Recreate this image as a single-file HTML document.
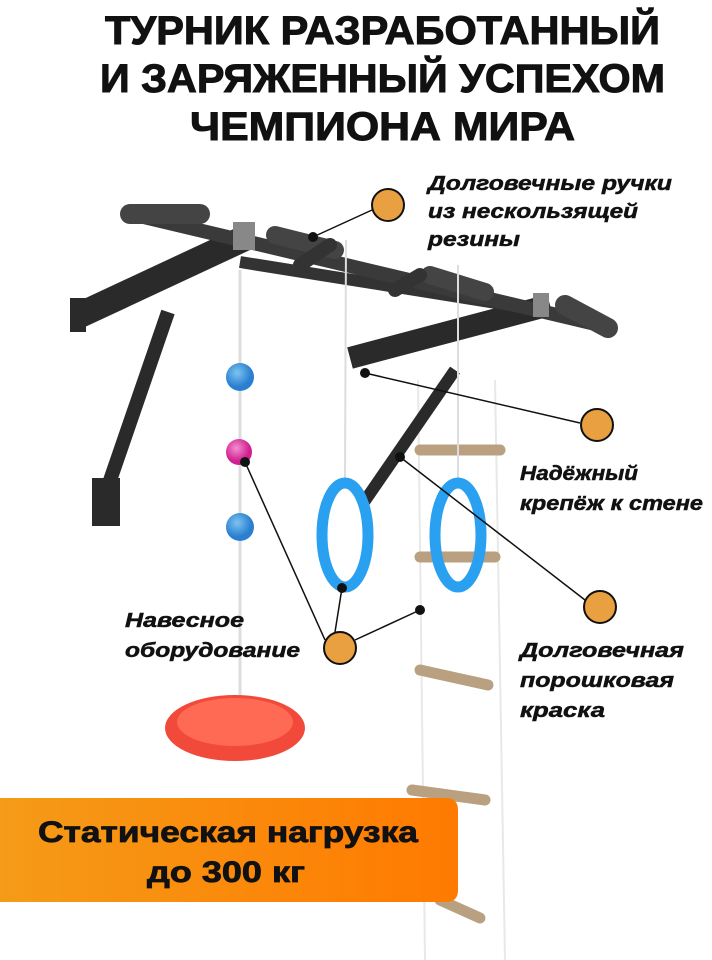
<!DOCTYPE html>
<html><head><meta charset="utf-8"><style>
body{margin:0;width:712px;height:960px;background:#fff;overflow:hidden;font-family:"Liberation Sans",sans-serif}
svg{display:block}
text{font-family:"Liberation Sans","DejaVu Sans",sans-serif;font-weight:bold;fill:#111}
</style></head><body>
<svg width="712" height="960" viewBox="0 0 712 960">
<defs>
<linearGradient id="og" x1="0" x2="1"><stop offset="0" stop-color="#f59b18"/><stop offset="1" stop-color="#ff7a00"/></linearGradient>
<radialGradient id="bb" cx="0.4" cy="0.35"><stop offset="0" stop-color="#7cc4f0"/><stop offset="1" stop-color="#2a7fd0"/></radialGradient>
<radialGradient id="pb" cx="0.4" cy="0.35"><stop offset="0" stop-color="#f48fd0"/><stop offset="1" stop-color="#d0208f"/></radialGradient>
</defs>
<g font-size="40" stroke="#111" stroke-width="1">
<text x="105" y="44" textLength="555" lengthAdjust="spacingAndGlyphs">ТУРНИК РАЗРАБОТАННЫЙ</text>
<text x="100" y="92" textLength="565" lengthAdjust="spacingAndGlyphs">И ЗАРЯЖЕННЫЙ УСПЕХОМ</text>
<text x="190" y="140" textLength="385" lengthAdjust="spacingAndGlyphs">ЧЕМПИОНА МИРА</text>
</g>
<!-- ladder ropes -->
<g stroke="#e8e8e8" stroke-width="2" fill="none">
<line x1="418" y1="380" x2="425" y2="960"/><line x1="495" y1="380" x2="505" y2="960"/>
</g>
<g stroke="#b8a080" stroke-width="11" stroke-linecap="round">
<line x1="420" y1="450" x2="500" y2="450"/><line x1="420" y1="557" x2="495" y2="557"/>
<line x1="420" y1="670" x2="488" y2="685"/><line x1="412" y1="790" x2="485" y2="800"/>
<line x1="440" y1="900" x2="480" y2="918"/>
</g>
<!-- frame -->
<g stroke="#2a2a2a" stroke-linecap="butt" fill="none">
<line x1="80" y1="315" x2="245" y2="238" stroke-width="26"/>
<line x1="168" y1="312" x2="105" y2="495" stroke-width="14"/>
<rect x="92" y="478" width="28" height="48" fill="#2a2a2a" stroke="none"/>
<rect x="70" y="298" width="16" height="34" fill="#2a2a2a" stroke="none"/>
<line x1="350" y1="358" x2="550" y2="305" stroke-width="22"/>
<line x1="455" y1="370" x2="362" y2="505" stroke-width="12"/>
<line x1="240" y1="262" x2="540" y2="310" stroke-width="12" stroke="#333"/>
<line x1="135" y1="215" x2="612" y2="328" stroke-width="14" stroke="#3a3a3a"/>
<line x1="130" y1="214" x2="200" y2="214" stroke-width="20" stroke="#444" stroke-linecap="round"/>
<line x1="565" y1="305" x2="608" y2="328" stroke-width="20" stroke="#444" stroke-linecap="round"/>
<line x1="275" y1="235" x2="335" y2="250" stroke-width="18" stroke="#444" stroke-linecap="round"/>
<line x1="430" y1="275" x2="485" y2="292" stroke-width="18" stroke="#444" stroke-linecap="round"/>
<line x1="300" y1="265" x2="330" y2="245" stroke-width="14" stroke="#333" stroke-linecap="round"/>
<line x1="395" y1="290" x2="420" y2="275" stroke-width="14" stroke="#333" stroke-linecap="round"/>
</g>
<rect x="233" y="222" width="22" height="28" fill="#888"/>
<rect x="533" y="293" width="16" height="24" fill="#888"/>
<!-- left rope -->
<line x1="240" y1="270" x2="240" y2="725" stroke="#ddd" stroke-width="3"/>
<circle cx="240" cy="377" r="14" fill="url(#bb)"/>
<circle cx="239" cy="452" r="13" fill="url(#pb)"/>
<circle cx="240" cy="527" r="14" fill="url(#bb)"/>
<ellipse cx="235" cy="728" rx="70" ry="33" fill="#f24a3a"/>
<ellipse cx="235" cy="722" rx="58" ry="24" fill="#ff6a55"/>
<!-- ring ropes -->
<line x1="346" y1="240" x2="345" y2="480" stroke="#ddd" stroke-width="2"/>
<line x1="458" y1="265" x2="458" y2="480" stroke="#ddd" stroke-width="2"/>
<ellipse cx="345" cy="535" rx="23" ry="52" fill="none" stroke="#2aa0f0" stroke-width="11"/>
<ellipse cx="458" cy="535" rx="23" ry="52" fill="none" stroke="#2aa0f0" stroke-width="11"/>
<!-- banner -->
<path d="M0 798 H446 Q458 798 458 810 V890 Q458 902 446 902 H0 Z" fill="url(#og)"/>
<g font-size="30" stroke="#111" stroke-width="0.8"><text x="38" y="842" textLength="380" lengthAdjust="spacingAndGlyphs">Статическая нагрузка</text><text x="147" y="882" textLength="158" lengthAdjust="spacingAndGlyphs">до 300 кг</text></g>
<!-- leaders -->
<g stroke="#111" stroke-width="1.5" fill="none">
<line x1="313" y1="237" x2="372" y2="210"/>
<line x1="365" y1="373" x2="580" y2="423"/>
<line x1="400" y1="457" x2="585" y2="600"/>
<line x1="245" y1="462" x2="325" y2="640"/>
<line x1="342" y1="588" x2="335" y2="632"/>
<line x1="420" y1="610" x2="355" y2="640"/>
</g>
<g fill="#111"><circle cx="313" cy="237" r="5"/><circle cx="365" cy="373" r="5"/><circle cx="400" cy="457" r="5"/><circle cx="245" cy="462" r="5"/><circle cx="342" cy="588" r="5"/><circle cx="420" cy="610" r="5"/></g>
<g fill="#e9a040" stroke="#111" stroke-width="2">
<circle cx="388" cy="205" r="16"/><circle cx="597" cy="425" r="16"/><circle cx="600" cy="607" r="16"/><circle cx="340" cy="648" r="16"/>
</g>
<g font-size="20" font-style="italic" stroke="#111" stroke-width="0.5" lengthAdjust="spacingAndGlyphs">
<text x="428" y="190" textLength="244" lengthAdjust="spacingAndGlyphs">Долговечные ручки</text><text x="428" y="218" textLength="210" lengthAdjust="spacingAndGlyphs">из нескользящей</text><text x="428" y="246" textLength="92" lengthAdjust="spacingAndGlyphs">резины</text>
<text x="520" y="480" textLength="118" lengthAdjust="spacingAndGlyphs">Надёжный</text><text x="520" y="510" textLength="183" lengthAdjust="spacingAndGlyphs">крепёж к стене</text>
<text x="520" y="657" textLength="164" lengthAdjust="spacingAndGlyphs">Долговечная</text><text x="520" y="687" textLength="154" lengthAdjust="spacingAndGlyphs">порошковая</text><text x="520" y="717" textLength="85" lengthAdjust="spacingAndGlyphs">краска</text>
<text x="125" y="627" textLength="119" lengthAdjust="spacingAndGlyphs">Навесное</text><text x="125" y="657" textLength="175" lengthAdjust="spacingAndGlyphs">оборудование</text>
</g>
</svg>
</body></html>
